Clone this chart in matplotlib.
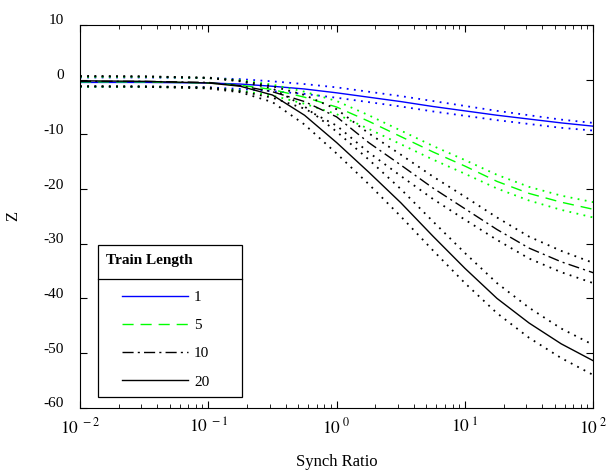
import numpy as np
import matplotlib
matplotlib.use("Agg")
import matplotlib.pyplot as plt
from matplotlib.transforms import ScaledTranslation

plt.rcParams['font.family'] = ['Liberation Serif', 'DejaVu Serif']
plt.rcParams['mathtext.fontset'] = 'stix'
plt.rcParams['axes.unicode_minus'] = False

# synch ratio sample points (log10 spaced)
log_x = [-2, -1.5, -1, -0.75, -0.5, -0.25, 0, 0.25, 0.5, 0.75, 1, 1.25, 1.5, 1.75, 2]

z_1 = [-0.5, -0.5, -0.6, -0.8, -1.2, -1.7, -2.4, -3.2, -4.0, -4.9, -5.7, -6.5, -7.2, -7.9, -8.5]
z_1_hi = [0.4, 0.4, 0.3, 0.1, -0.3, -0.8, -1.4, -2.2, -3.0, -3.9, -4.8, -5.7, -6.5, -7.3, -7.9]
z_1_lo = [-1.3, -1.3, -1.4, -1.7, -2.1, -2.6, -3.3, -4.1, -4.9, -5.8, -6.6, -7.4, -8.1, -8.8, -9.3]

z_5 = [-0.4, -0.4, -0.6, -1.0, -1.8, -3.2, -5.0, -7.6, -10.4, -13.2, -15.8, -18.6, -20.8, -22.4, -23.7]
z_5_hi = [0.5, 0.5, 0.3, -0.1, -0.9, -2.2, -3.9, -6.5, -9.3, -12.1, -14.7, -17.4, -19.6, -21.2, -22.4]
z_5_lo = [-1.3, -1.3, -1.5, -2.0, -2.9, -4.4, -6.3, -9.0, -11.8, -14.6, -17.2, -19.9, -22.1, -23.8, -25.2]

z_10 = [-0.3, -0.3, -0.5, -1.1, -2.2, -4.0, -6.8, -11.5, -15.6, -19.8, -23.6, -27.4, -30.8, -33.3, -35.3]
z_10_hi = [0.6, 0.6, 0.4, -0.2, -1.2, -2.8, -5.4, -9.8, -13.7, -17.7, -21.4, -25.2, -28.7, -31.3, -33.5]
z_10_lo = [-1.2, -1.2, -1.4, -2.1, -3.3, -5.3, -8.4, -13.3, -17.6, -21.8, -25.6, -29.3, -32.7, -35.2, -37.2]

z_20 = [-0.2, -0.3, -0.6, -1.2, -2.8, -6.5, -11.5, -16.9, -22.5, -28.6, -34.5, -40.0, -44.5, -48.3, -51.4]
z_20_hi = [0.7, 0.6, 0.3, -0.3, -1.6, -4.9, -9.5, -14.6, -20.0, -25.9, -31.7, -37.2, -41.7, -45.5, -48.5]
z_20_lo = [-1.2, -1.3, -1.6, -2.3, -4.1, -8.2, -13.5, -19.1, -25.0, -31.2, -37.2, -42.7, -47.2, -50.9, -54.0]

x_ticks = [0.01, 0.1, 1, 10, 100]
x_tick_labels = [r'$10^{\ -2}$', r'$10^{\ -1}$', r'$10^{\ 0}$', r'$10^{\ 1}$', r'$10^{\ 2}$']
y_ticks = [10, 0, -10, -20, -30, -40, -50, -60]

x = 10.0 ** np.array(log_x)

fig = plt.figure(figsize=(6.06, 4.72), dpi=100)
ax = fig.add_axes([0.132, 0.136, 0.847, 0.811])

dot = (0, (1, 3))
series = [
    ('1', z_1, z_1_hi, z_1_lo, '#0000ff', '-'),
    ('5', z_5, z_5_hi, z_5_lo, '#00ff00', (0, (8, 5))),
    ('10', z_10, z_10_hi, z_10_lo, 'black', (0, (8, 3, 1.5, 3))),
    ('20', z_20, z_20_hi, z_20_lo, 'black', '-'),
]
handles = []
for name, mid, hi, lo, col, ls in series:
    h, = ax.plot(x, mid, color=col, linestyle=ls, lw=1.0, label=name)
    ax.plot(x, hi, color=col, linestyle=dot, lw=1.3)
    ax.plot(x, lo, color=col, linestyle=dot, lw=1.3)
    handles.append(h)

ax.set_xscale('log')
ax.set_xlim(0.01, 100)
ax.set_ylim(-60, 10)
ax.set_xticks(x_ticks)
ax.set_xticklabels(x_tick_labels)
ax.set_yticks(y_ticks)
ax.tick_params(which='both', direction='in', top=True, right=True, labelsize=11)
ax.tick_params(which='major', length=5)
ax.tick_params(which='minor', length=3)
ax.tick_params(axis='x', pad=7, labelsize=12.5)
ax.tick_params(axis='y', pad=11.5)
for lab in ax.get_yticklabels():
    lab.set_transform(lab.get_transform() + ScaledTranslation(0, 4 / 72, fig.dpi_scale_trans))

ax.set_xlabel('Synch Ratio', fontsize=12, va='center')
ax.xaxis.set_label_coords(0.5, -0.141)
ax.set_ylabel('Z', fontsize=12, va='center')
ax.yaxis.set_label_coords(-0.13, 0.5)

# legend box with title
bx0, by0, bw, bh = 0.035, 0.029, 0.281, 0.397
ax.add_patch(plt.Rectangle((bx0, by0), bw, bh, transform=ax.transAxes,
                           fill=True, facecolor='white', edgecolor='black', lw=0.9, zorder=5))
ax.plot([bx0, bx0 + bw], [0.337, 0.337], transform=ax.transAxes, color='black', lw=0.9, zorder=6)
ax.text(bx0 + 0.016, 0.385, 'Train Length', transform=ax.transAxes, fontsize=11,
        fontweight='bold', va='center', ha='left', zorder=6)
leg = ax.legend(handles=handles, loc='upper left', bbox_to_anchor=(0.082, 0.307),
                frameon=False, fontsize=11, handlelength=4.3, handletextpad=0.4,
                labelspacing=0.95, borderaxespad=0, borderpad=0)
leg.set_zorder(7)

plt.savefig('out.png', dpi=100)
